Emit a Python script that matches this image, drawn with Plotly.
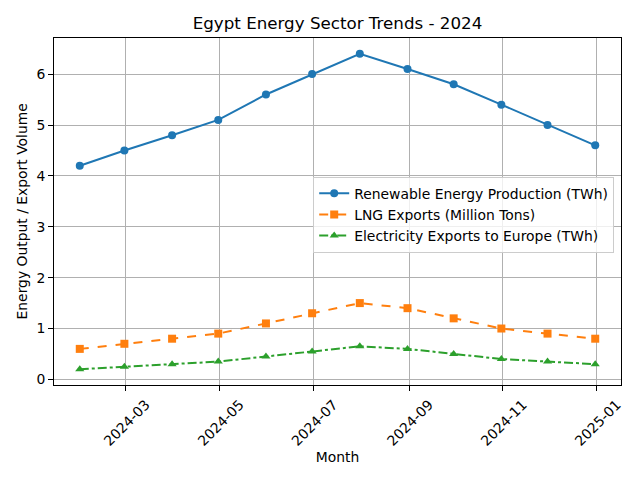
import plotly.graph_objects as go
import pandas as pd

months = pd.date_range("2024-01-31", periods=12, freq="ME")
renewable = [4.2, 4.5, 4.8, 5.1, 5.6, 6.0, 6.4, 6.1, 5.8, 5.4, 5.0, 4.6]
lng = [0.6, 0.7, 0.8, 0.9, 1.1, 1.3, 1.5, 1.4, 1.2, 1.0, 0.9, 0.8]
electricity = [0.2, 0.25, 0.3, 0.35, 0.45, 0.55, 0.65, 0.6, 0.5, 0.4, 0.35, 0.3]
names = ["Renewable Energy Production (TWh)", "LNG Exports (Million Tons)",
         "Electricity Exports to Europe (TWh)"]
xtick_vals = ["2024-03-01", "2024-05-01", "2024-07-01", "2024-09-01", "2024-11-01", "2025-01-01"]
xtick_text = ["2024-03", "2024-05", "2024-07", "2024-09", "2024-11", "2025-01"]

font = "DejaVu Sans"
fs = 13.9
fig = go.Figure()
styles = [
    (renewable, "#1f77b4", "solid", "circle"),
    (lng, "#ff7f0e", "dash", "square"),
    (electricity, "#2ca02c", "dashdot", "triangle-up"),
]
for (vals, color, dash, sym), name in zip(styles, names):
    fig.add_trace(go.Scatter(
        x=months, y=vals, name=name, mode="lines+markers",
        line=dict(color=color, width=2, dash=dash),
        marker=dict(color=color, size=8, symbol=sym),
    ))

axis_common = dict(
    showline=True, mirror=True, linecolor="black", linewidth=1,
    ticks="outside", ticklen=5, tickcolor="black",
    showgrid=True, gridcolor="#b0b0b0", gridwidth=1,
    zeroline=False, tickfont=dict(family=font, size=fs, color="black"),
    automargin=False,
)
span = (months[-1] - months[0]) * 0.05
fig.update_xaxes(
    range=[months[0] - span, months[-1] + span],
    tickvals=xtick_vals, ticktext=xtick_text, tickangle=-45,
    ticklabelshift=20,
    title=dict(text="Month", font=dict(family=font, size=fs, color="black"), standoff=0),
    **axis_common,
)
ymin, ymax = min(electricity), max(renewable)
pad = (ymax - ymin) * 0.05
fig.update_yaxes(
    range=[ymin - pad, ymax + pad], tickvals=[0, 1, 2, 3, 4, 5, 6],
    **axis_common,
)
fig.add_annotation(
    text="Energy Output / Export Volume", textangle=-90,
    xref="paper", yref="paper", x=0, y=0.5, xanchor="center", yanchor="middle",
    xshift=-33, showarrow=False,
    font=dict(family=font, size=fs, color="black"),
)
fig.update_layout(
    width=640, height=480,
    margin=dict(l=46, r=27, t=30, b=103),
    paper_bgcolor="white", plot_bgcolor="white",
    title=dict(text="Egypt Energy Sector Trends - 2024", x=(46 + 613) / 2 / 640, xanchor="center",
               y=1 - 15 / 480, yanchor="middle",
               font=dict(family=font, size=16.7, color="black")),
    legend=dict(x=0.988, y=0.6, xanchor="right", yanchor="top",
                bgcolor="rgba(255,255,255,0.8)", bordercolor="#cccccc", borderwidth=1,
                font=dict(family=font, size=fs, color="black")),
    showlegend=True,
)
fig.write_html("out.html")
